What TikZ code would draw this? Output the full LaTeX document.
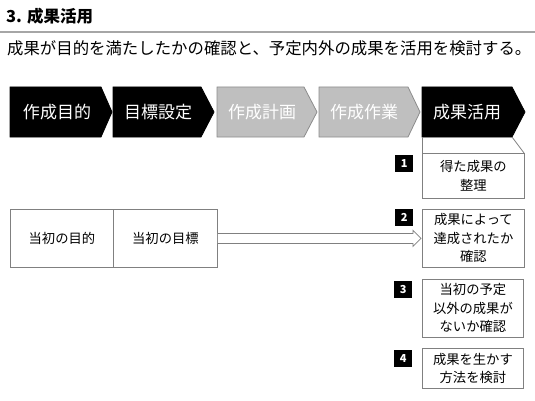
\documentclass[tikz,border=0pt]{standalone}
\usepackage{fontspec}
\setmainfont{Noto Sans CJK JP}
\usetikzlibrary{calc}
\definecolor{chevgray}{HTML}{BFBFBF}
\definecolor{chevline}{HTML}{8C8C8C}
\definecolor{boxline}{HTML}{808080}
\definecolor{rule}{HTML}{A6A6A6}
\tikzset{
  chevtext/.style={text=white, font=\fontsize{17}{20}\selectfont, anchor=center, inner sep=0pt},
  box/.style={draw=boxline, line width=0.8pt, fill=white, anchor=north west, align=center,
    inner sep=0pt, font=\fontsize{13.3}{18.5}\selectfont},
  badge/.style={fill=black, text=white, anchor=north west, minimum width=18pt, minimum height=17pt,
    inner sep=0pt, font=\bfseries\fontsize{11}{12}\selectfont},
  blockarrow/.style={draw=boxline, line width=0.8pt, fill=white}
}
\newcommand{\mychev}[5]{% x0, bodyright, tip, fill, draw
  \fill[#4] (#1,87) -- (#2,87) -- (#3,112) -- (#2,137) -- (#1,137) -- cycle;
  \draw[#5, line width=0.8pt] (#1,87) -- (#2,87) -- (#3,112) -- (#2,137) -- (#1,137) -- cycle;
}
\begin{document}
\begin{tikzpicture}[x=1pt,y=-1pt]
\useasboundingbox (0,0) rectangle (535,401);
% title
\node[anchor=west, inner sep=0pt, font=\bfseries\fontsize{16.5}{18}\selectfont] (title) at (6,16) {3. 成果活用};
\draw[rule, line width=2pt] (0,32) -- (535,32);
\node[anchor=west, inner sep=0pt, font=\fontsize{16.4}{18}\selectfont] (sub) at (7,48) {成果が目的を満たしたかの確認と、予定内外の成果を活用を検討する。};
% chevrons
\mychev{10}{101}{112}{black}{black}
\mychev{113}{201}{214}{black}{black}
\mychev{217}{304}{317}{chevgray}{chevline}
\mychev{319}{408}{420}{chevgray}{chevline}
\mychev{422}{512}{525}{black}{black}
\node[chevtext] (c1) at (57,112) {作成目的};
\node[chevtext] (c2) at (158,112) {目標設定};
\node[chevtext] (c3) at (262,112) {作成計画};
\node[chevtext] (c4) at (364,112) {作成作業};
\node[chevtext] (c5) at (467,112) {成果活用};
% callout below chevron 5
\draw[boxline, line width=0.8pt] (422,137) -- (422,153);
\draw[boxline, line width=0.8pt] (512,137) -- (524,153);
% boxes on right
\node[box, minimum width=102pt, minimum height=45pt] (b1) at (422,153) {得た成果の\\整理};
\node[box, minimum width=102pt, minimum height=58pt] (b2) at (422,209) {成果によって\\達成されたか\\確認};
\node[box, minimum width=101pt, minimum height=58pt] (b3) at (422,279) {当初の予定\\以外の成果が\\ないか確認};
\node[box, minimum width=101pt, minimum height=40pt] (b4) at (422,348) {成果を生かす\\方法を検討};
% badges
\node[badge] (n1) at (395,155) {1};
\node[badge] (n2) at (395,209) {2};
\node[badge] (n3) at (394,281) {3};
\node[badge] (n4) at (394,350) {4};
% left boxes
\node[box, minimum width=103pt, minimum height=58pt] (purpose) at (10,209) {当初の目的};
\node[box, minimum width=104pt, minimum height=58pt] (goal) at (113,209) {当初の目標};
% block arrow
\draw[blockarrow]
  ($(goal.east)+(0,-5)$) -- ($(b2.west)+(-9,-5)$) -- ($(b2.west)+(-9,-8)$) --
  ($(b2.west)+(-1,0)$) --
  ($(b2.west)+(-9,8)$) -- ($(b2.west)+(-9,5)$) -- ($(goal.east)+(0,5)$);
\end{tikzpicture}
\end{document}
